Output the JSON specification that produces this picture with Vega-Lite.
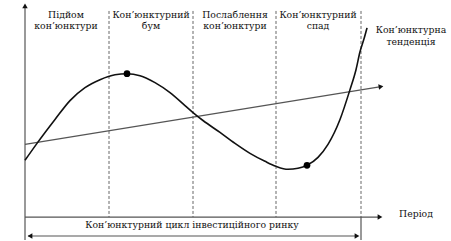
{
  "$schema": "https://vega.github.io/schema/vega-lite/v6.json",
  "width": 451,
  "height": 241,
  "padding": 0,
  "autosize": {"type": "fit", "contains": "padding"},
  "background": "white",
  "config": {"view": {"stroke": null}},
  "datasets": {
    "curve": [
      {"t": 25, "v": 161}, {"t": 37, "v": 144}, {"t": 55, "v": 120}, {"t": 70, "v": 101},
      {"t": 85, "v": 88}, {"t": 100, "v": 80}, {"t": 115, "v": 75}, {"t": 127, "v": 74},
      {"t": 140, "v": 76}, {"t": 155, "v": 83}, {"t": 170, "v": 93}, {"t": 185, "v": 106},
      {"t": 193, "v": 113}, {"t": 203, "v": 121}, {"t": 220, "v": 133}, {"t": 235, "v": 144},
      {"t": 250, "v": 154}, {"t": 265, "v": 162}, {"t": 276, "v": 167}, {"t": 288, "v": 170},
      {"t": 298, "v": 169}, {"t": 307, "v": 166}, {"t": 318, "v": 158}, {"t": 328, "v": 145},
      {"t": 340, "v": 120}, {"t": 350, "v": 90}, {"t": 356, "v": 70}, {"t": 360, "v": 52},
      {"t": 364, "v": 39}, {"t": 367, "v": 28}
    ],
    "dots": [{"t": 127, "v": 74}, {"t": 307, "v": 166}],
    "solidRules": [
      {"t": 25, "v": 241, "t2": 25, "v2": 6},
      {"t": 25, "v": 218, "t2": 380, "v2": 218},
      {"t": 28, "v": 237, "t2": 357, "v2": 237},
      {"t": 25, "v": 145, "t2": 381, "v2": 87},
      {"t": 361, "v": 218, "t2": 361, "v2": 241}
    ],
    "dashedRules": [
      {"t": 109, "v": 11, "t2": 109, "v2": 218},
      {"t": 193, "v": 11, "t2": 193, "v2": 218},
      {"t": 276, "v": 11, "t2": 276, "v2": 218},
      {"t": 361, "v": 11, "t2": 361, "v2": 218}
    ],
    "arrows": [
      {"t": 25, "v": 6, "shape": "triangle-up", "ang": 0},
      {"t": 380, "v": 218, "shape": "triangle-right", "ang": 0},
      {"t": 357, "v": 237, "shape": "triangle-right", "ang": 0},
      {"t": 30, "v": 237, "shape": "triangle-left", "ang": 0},
      {"t": 381, "v": 87, "shape": "triangle-right", "ang": 351}
    ],
    "labels": [
      {"t": 66, "v": 15, "label": "Підйом"},
      {"t": 66, "v": 26, "label": "кон’юнктури"},
      {"t": 151, "v": 15, "label": "Кон’юнктурний"},
      {"t": 151, "v": 26, "label": "бум"},
      {"t": 235, "v": 15, "label": "Послаблення"},
      {"t": 235, "v": 26, "label": "кон’юнктури"},
      {"t": 318, "v": 15, "label": "Кон’юнктурний"},
      {"t": 318, "v": 26, "label": "спад"},
      {"t": 411, "v": 30, "label": "Кон’юнктурна"},
      {"t": 411, "v": 42, "label": "тенденція"},
      {"t": 416, "v": 215, "label": "Період"},
      {"t": 192, "v": 226, "label": "Кон’юнктурний цикл інвестиційного ринку"}
    ]
  },
  "layer": [
    {
      "data": {"name": "dashedRules"},
      "mark": {"type": "rule", "stroke": "#666666", "strokeWidth": 1, "strokeDash": [3, 2]},
      "encoding": {
        "x": {"field": "t", "type": "quantitative", "scale": {"domain": [0, 451]}, "axis": null},
        "y": {"field": "v", "type": "quantitative", "scale": {"domain": [0, 241], "reverse": true}, "axis": null},
        "x2": {"field": "t2"},
        "y2": {"field": "v2"}
      }
    },
    {
      "data": {"name": "solidRules"},
      "mark": {"type": "rule", "stroke": "#555555", "strokeWidth": 1.2},
      "encoding": {
        "x": {"field": "t", "type": "quantitative", "scale": {"domain": [0, 451]}, "axis": null},
        "y": {"field": "v", "type": "quantitative", "scale": {"domain": [0, 241], "reverse": true}, "axis": null},
        "x2": {"field": "t2"},
        "y2": {"field": "v2"}
      }
    },
    {
      "data": {"name": "arrows"},
      "mark": {"type": "point", "filled": true, "color": "#111111", "size": 30, "opacity": 1},
      "encoding": {
        "x": {"field": "t", "type": "quantitative", "scale": {"domain": [0, 451]}, "axis": null},
        "y": {"field": "v", "type": "quantitative", "scale": {"domain": [0, 241], "reverse": true}, "axis": null},
        "shape": {"field": "shape", "type": "nominal", "scale": null},
        "angle": {"field": "ang", "type": "quantitative", "scale": null}
      }
    },
    {
      "data": {"name": "curve"},
      "mark": {"type": "line", "color": "#111111", "strokeWidth": 1.6, "interpolate": "monotone"},
      "encoding": {
        "x": {"field": "t", "type": "quantitative", "scale": {"domain": [0, 451]}, "axis": null},
        "y": {"field": "v", "type": "quantitative", "scale": {"domain": [0, 241], "reverse": true}, "axis": null}
      }
    },
    {
      "data": {"name": "dots"},
      "mark": {"type": "circle", "color": "#000000", "size": 45, "opacity": 1},
      "encoding": {
        "x": {"field": "t", "type": "quantitative", "scale": {"domain": [0, 451]}, "axis": null},
        "y": {"field": "v", "type": "quantitative", "scale": {"domain": [0, 241], "reverse": true}, "axis": null}
      }
    },
    {
      "data": {"name": "labels"},
      "mark": {"type": "text", "font": "DejaVu Serif", "fontSize": 9.3, "color": "#111111", "align": "center", "baseline": "middle"},
      "encoding": {
        "x": {"field": "t", "type": "quantitative", "scale": {"domain": [0, 451]}, "axis": null},
        "y": {"field": "v", "type": "quantitative", "scale": {"domain": [0, 241], "reverse": true}, "axis": null},
        "text": {"field": "label", "type": "nominal"}
      }
    }
  ]
}
